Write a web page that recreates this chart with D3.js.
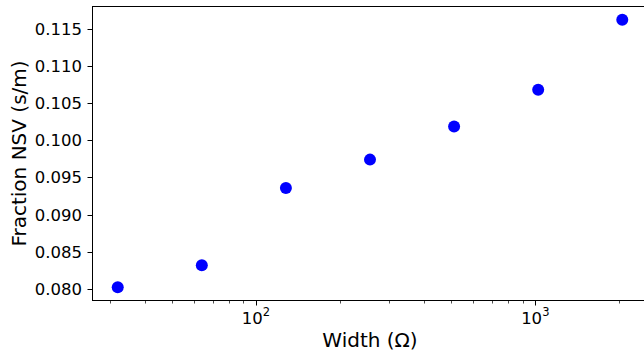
<!DOCTYPE html>
<html>
<head>
<title>Fraction NSV vs Width</title>
<script src="https://d3js.org/d3.v7.min.js"></script>
<style>
body { margin: 0; background: #fff; }
text { font-family: "DejaVu Sans", sans-serif; fill: #000; }
</style>
</head>
<body>
<div id="chart"></div>
<script>
var widths = [32, 64, 128, 256, 512, 1024, 2048];
var fractions = [0.08022, 0.08318, 0.0936, 0.09741, 0.10189, 0.10683, 0.11625];
var yTicks = [0.080, 0.085, 0.090, 0.095, 0.100, 0.105, 0.110, 0.115];
var xMajor = [100, 1000];
var xMinor = [30, 40, 50, 60, 70, 80, 90, 200, 300, 400, 500, 600, 700, 800, 900, 2000];

var W = 644, H = 354;
// plot box (note: "top" is a reserved window property, so use other names)
var plotL = 92.5, plotR = 647.5, plotT = 6.5, plotB = 300.5;

var svg = d3.select("#chart").append("svg")
  .attr("width", W)
  .attr("height", H);

// matplotlib style 5% margins in log space
var lx = d3.extent(widths, function(d) { return Math.log10(d); });
var padX = (lx[1] - lx[0]) * 0.05;
var x = d3.scaleLog()
  .domain([Math.pow(10, lx[0] - padX), Math.pow(10, lx[1] + padX)])
  .range([plotL, plotR]);

var ly = d3.extent(fractions);
var padY = (ly[1] - ly[0]) * 0.05;
var y = d3.scaleLinear()
  .domain([ly[0] - padY, ly[1] + padY])
  .range([plotB, plotT]);

// points
svg.selectAll(".pt")
  .data(widths)
  .enter()
  .append("circle")
  .attr("class", "pt")
  .attr("cx", function(d) { return x(d); })
  .attr("cy", function(d, i) { return y(fractions[i]); })
  .attr("r", 6)
  .attr("fill", "#0000ff");

// frame
svg.append("rect")
  .attr("x", plotL)
  .attr("y", plotT)
  .attr("width", plotR - plotL)
  .attr("height", plotB - plotT)
  .attr("fill", "none")
  .attr("stroke", "#000")
  .attr("stroke-width", 1);

// y axis
var yAxis = svg.append("g");
yAxis.selectAll("line")
  .data(yTicks)
  .enter()
  .append("line")
  .attr("x1", plotL - 5)
  .attr("x2", plotL)
  .attr("y1", function(d) { return Math.round(y(d)) + 0.5; })
  .attr("y2", function(d) { return Math.round(y(d)) + 0.5; })
  .attr("stroke", "#000");
yAxis.selectAll("text")
  .data(yTicks)
  .enter()
  .append("text")
  .attr("x", plotL - 10.5)
  .attr("y", function(d) { return y(d); })
  .attr("dy", "0.36em")
  .attr("text-anchor", "end")
  .attr("font-size", 16.5)
  .text(function(d) { return d3.format(".3f")(d); });

// x axis
var xAxis = svg.append("g");
xAxis.selectAll(".minor")
  .data(xMinor)
  .enter()
  .append("line")
  .attr("class", "minor")
  .attr("x1", function(d) { return Math.round(x(d)) + 0.5; })
  .attr("x2", function(d) { return Math.round(x(d)) + 0.5; })
  .attr("y1", plotB)
  .attr("y2", plotB + 3)
  .attr("stroke", "#000")
  .attr("stroke-width", 0.7);
xAxis.selectAll(".major")
  .data(xMajor)
  .enter()
  .append("line")
  .attr("class", "major")
  .attr("x1", function(d) { return Math.round(x(d)) + 0.5; })
  .attr("x2", function(d) { return Math.round(x(d)) + 0.5; })
  .attr("y1", plotB)
  .attr("y2", plotB + 5)
  .attr("stroke", "#000");
var lbl = xAxis.selectAll(".xl")
  .data(xMajor)
  .enter()
  .append("text")
  .attr("class", "xl")
  .attr("x", function(d) { return x(d); })
  .attr("y", 324)
  .attr("text-anchor", "middle")
  .attr("font-size", 16.5);
lbl.append("tspan").text("10");
lbl.append("tspan")
  .attr("font-size", 11.5)
  .attr("dy", -8)
  .text(function(d) { return Math.round(Math.log10(d)); });

// axis titles
svg.append("text")
  .attr("x", 370)
  .attr("y", 347)
  .attr("text-anchor", "middle")
  .attr("font-size", 20)
  .text("Width (\u03A9)");

svg.append("text")
  .attr("transform", "translate(25.5," + ((plotT + plotB) / 2) + ") rotate(-90)")
  .attr("text-anchor", "middle")
  .attr("font-size", 20)
  .text("Fraction NSV (s/m)");
</script>
</body>
</html>
